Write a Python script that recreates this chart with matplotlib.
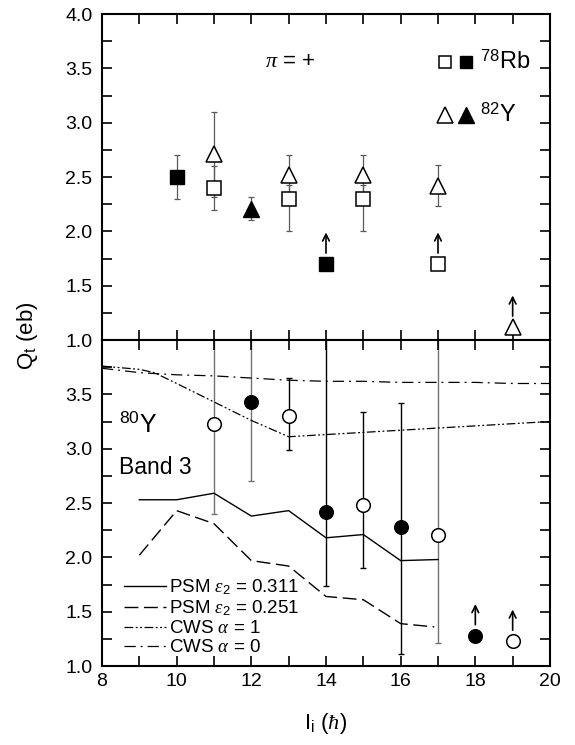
import matplotlib
matplotlib.use("Agg")
import matplotlib.pyplot as plt
from matplotlib.ticker import MultipleLocator

plt.rcParams['font.family'] = ['Liberation Sans', 'DejaVu Sans']
plt.rcParams['mathtext.fontset'] = 'custom'
plt.rcParams['mathtext.rm'] = 'Liberation Sans'
plt.rcParams['mathtext.it'] = 'Liberation Serif:italic'
plt.rcParams['mathtext.bf'] = 'Liberation Sans:bold'
plt.rcParams['mathtext.sf'] = 'Liberation Sans'

######################################################################
# Data: upper panel (78Rb, 82Y, pi = +)
rb_open_x = [11, 13, 15]
rb_open_y = [2.40, 2.30, 2.30]
rb_open_lo = [0.20, 0.30, 0.30]
rb_open_hi = [0.20, 0.13, 0.13]
rb_fill_x = [10]
rb_fill_y = [2.50]
rb_fill_err = [0.20]
rb_open_lim_x = [17]
rb_open_lim_y = [1.70]
rb_fill_lim_x = [14]
rb_fill_lim_y = [1.70]

y_open_x = [11, 13, 15, 17]
y_open_y = [2.71, 2.52, 2.52, 2.42]
y_open_err = [0.39, 0.18, 0.18, 0.19]
y_fill_x = [12]
y_fill_y = [2.21]
y_fill_err = [0.11]
y_open_lim_x = [19]
y_open_lim_y = [1.12]

######################################################################
# Data: lower panel (80Y band 3)
c_open_x = [11, 13, 15, 17]
c_open_y = [3.23, 3.30, 2.48, 2.21]
c_open_lo = [3.23 - 2.40, 3.30 - 2.99, 2.48 - 1.90, 2.21 - 1.21]
c_open_hi = [4.20 - 3.23, 3.65 - 3.30, 3.34 - 2.48, 4.20 - 2.21]
c_fill_x = [12, 14, 16]
c_fill_y = [3.43, 2.42, 2.28]
c_fill_lo = [3.43 - 2.70, 2.42 - 1.74, 2.28 - 1.11]
c_fill_hi = [4.20 - 3.43, 4.20 - 2.42, 3.42 - 2.28]
c_fill_lim_x = [18]
c_fill_lim_y = [1.28]
c_open_lim_x = [19]
c_open_lim_y = [1.23]

psm311_x = [9, 10, 11, 12, 13, 14, 15, 16, 17]
psm311_y = [2.53, 2.53, 2.59, 2.38, 2.43, 2.18, 2.21, 1.97, 1.98]
psm251_x = [9, 10, 11, 12, 13, 14, 15, 16, 16.9]
psm251_y = [2.02, 2.43, 2.31, 1.97, 1.92, 1.64, 1.61, 1.39, 1.36]
cws1_x = [8, 9, 9.4, 10, 11, 12, 13, 14, 15, 16, 17, 18, 19, 20]
cws1_y = [3.76, 3.73, 3.70, 3.60, 3.43, 3.26, 3.11, 3.13, 3.15, 3.17, 3.19, 3.21, 3.23, 3.25]
cws0_x = [8, 9, 10, 11, 12, 13, 14, 15, 16, 17, 18, 19, 20]
cws0_y = [3.74, 3.70, 3.68, 3.67, 3.65, 3.63, 3.62, 3.62, 3.61, 3.61, 3.61, 3.60, 3.60]

FS = 14
ms_sq = 9.5
ms_tri = 12
ms_circ = 9.8


def style_axes(ax, ylabels):
    ax.set_xlim(8, 20)
    ax.set_ylim(1.0, 4.0)
    ax.xaxis.set_major_locator(MultipleLocator(2))
    ax.xaxis.set_minor_locator(MultipleLocator(1))
    ax.yaxis.set_major_locator(MultipleLocator(0.5))
    ax.yaxis.set_minor_locator(MultipleLocator(0.25))
    ax.tick_params(which='both', direction='in', top=True, right=True,
                   labelsize=FS, width=1.2)
    ax.tick_params(axis='y', pad=7)
    ax.tick_params(axis='x', pad=5)
    ax.tick_params(which='both', length=7)
    for sp in ax.spines.values():
        sp.set_linewidth(1.5)
    ax.set_yticks(ylabels)
    ax.set_yticklabels(["%.1f" % v for v in ylabels])


def lower_limit(ax, xs, ys):
    for x, y in zip(xs, ys):
        ax.annotate("", xy=(x, y + 0.29), xytext=(x, y + 0.1),
                    arrowprops=dict(arrowstyle='->', lw=1.2, color='k',
                                    mutation_scale=12, shrinkA=0, shrinkB=0))


fig = plt.figure(figsize=(5.75, 7.45), dpi=100)
ax1 = fig.add_axes([0.1774, 0.5436, 0.7791, 0.4376])
ax2 = fig.add_axes([0.1774, 0.1060, 0.7791, 0.4376])

######################################################################
# Upper panel
ekw = dict(fmt='none', ecolor='0.35', elinewidth=0.9, capsize=2.5, capthick=0.9, zorder=1)
ax1.errorbar(y_open_x, y_open_y, yerr=y_open_err, **ekw)
ax1.errorbar(y_fill_x, y_fill_y, yerr=y_fill_err, **ekw)
ax1.errorbar(rb_open_x, rb_open_y, yerr=[rb_open_lo, rb_open_hi], **ekw)
ax1.errorbar(rb_fill_x, rb_fill_y, yerr=rb_fill_err, **ekw)

ax1.plot(y_open_x + y_open_lim_x, y_open_y + y_open_lim_y, '^', ms=ms_tri,
         mfc='white', mec='k', mew=1.1, ls='none', zorder=3)
ax1.plot(y_fill_x, y_fill_y, '^', ms=ms_tri, color='k', ls='none', zorder=3)
ax1.plot(rb_open_x + rb_open_lim_x, rb_open_y + rb_open_lim_y, 's', ms=ms_sq,
         mfc='white', mec='k', mew=1.1, ls='none', zorder=3)
ax1.plot(rb_fill_x + rb_fill_lim_x, rb_fill_y + rb_fill_lim_y, 's', ms=ms_sq,
         color='k', ls='none', zorder=3)
lower_limit(ax1, rb_fill_lim_x + rb_open_lim_x + y_open_lim_x,
            rb_fill_lim_y + rb_open_lim_y + y_open_lim_y)

ax1.text(13.05, 3.56, r"$\pi$ = +", fontsize=16, ha='center', va='center')
# symbol legend, top right
ax1.plot([17.19], [3.56], 's', ms=8.5, mfc='white', mec='k', mew=1.1)
ax1.plot([17.76], [3.56], 's', ms=8.5, color='k')
ax1.text(18.12, 3.56, r"$^{78}$Rb", fontsize=17, ha='left', va='center')
ax1.plot([17.19], [3.07], '^', ms=11, mfc='white', mec='k', mew=1.1)
ax1.plot([17.76], [3.07], '^', ms=11, color='k')
ax1.text(18.12, 3.07, r"$^{82}$Y", fontsize=17, ha='left', va='center')

style_axes(ax1, [1.0, 1.5, 2.0, 2.5, 3.0, 3.5, 4.0])
ax1.set_xticklabels([])

######################################################################
# Lower panel
ax2.plot(psm311_x, psm311_y, '-', color='k', lw=1.0, label=r"PSM $\varepsilon_2$ = 0.311")
ax2.plot(psm251_x, psm251_y, color='k', lw=1.0, dashes=(10, 4),
         label=r"PSM $\varepsilon_2$ = 0.251")
ax2.plot(cws1_x, cws1_y, color='k', lw=0.9, dashes=(7, 2, 1.5, 2, 1.5, 2),
         label=r"CWS $\alpha$ = 1")
ax2.plot(cws0_x, cws0_y, color='k', lw=0.9, dashes=(9, 4, 1.5, 4),
         label=r"CWS $\alpha$ = 0")

ekw2 = dict(fmt='none', elinewidth=1.0, capsize=2.5, capthick=1.0, zorder=1)
ax2.errorbar([c_open_x[0], c_open_x[3]], [c_open_y[0], c_open_y[3]],
             yerr=[[c_open_lo[0], c_open_lo[3]], [c_open_hi[0], c_open_hi[3]]],
             ecolor='0.45', **ekw2)
ax2.errorbar([c_open_x[1], c_open_x[2]], [c_open_y[1], c_open_y[2]],
             yerr=[[c_open_lo[1], c_open_lo[2]], [c_open_hi[1], c_open_hi[2]]],
             ecolor='k', **ekw2)
ax2.errorbar(c_fill_x[:1], c_fill_y[:1], yerr=[c_fill_lo[:1], c_fill_hi[:1]],
             ecolor='0.45', **ekw2)
ax2.errorbar(c_fill_x[1:], c_fill_y[1:], yerr=[c_fill_lo[1:], c_fill_hi[1:]],
             ecolor='k', **ekw2)

ax2.plot(c_open_x + c_open_lim_x, c_open_y + c_open_lim_y, 'o', ms=ms_circ,
         mfc='white', mec='k', mew=1.1, ls='none', zorder=3)
ax2.plot(c_fill_x + c_fill_lim_x, c_fill_y + c_fill_lim_y, 'o', ms=ms_circ,
         color='k', ls='none', zorder=3)
lower_limit(ax2, c_fill_lim_x + c_open_lim_x, c_fill_lim_y + c_open_lim_y)

ax2.text(8.45, 3.22, r"$^{80}$Y", fontsize=18, ha='left', va='center')
ax2.text(8.45, 2.83, "Band 3", fontsize=16.5, ha='left', va='center')

leg = ax2.legend(loc='lower left', bbox_to_anchor=(0.025, -0.005), frameon=False,
                 fontsize=13.5, handlelength=2.2, handletextpad=0.15,
                 labelspacing=0.1, borderaxespad=0.2)

style_axes(ax2, [1.0, 1.5, 2.0, 2.5, 3.0, 3.5])
ax2.set_xticks([8, 10, 12, 14, 16, 18, 20])
ax2.set_xlabel(r"I$_{\rm i}$ ($\hbar$)", fontsize=16, labelpad=15)

fig.text(0.047, 0.55, r"Q$_{\rm t}$ (eb)", rotation=90, fontsize=16,
         ha='center', va='center')

fig.savefig("out.png", dpi=100)
